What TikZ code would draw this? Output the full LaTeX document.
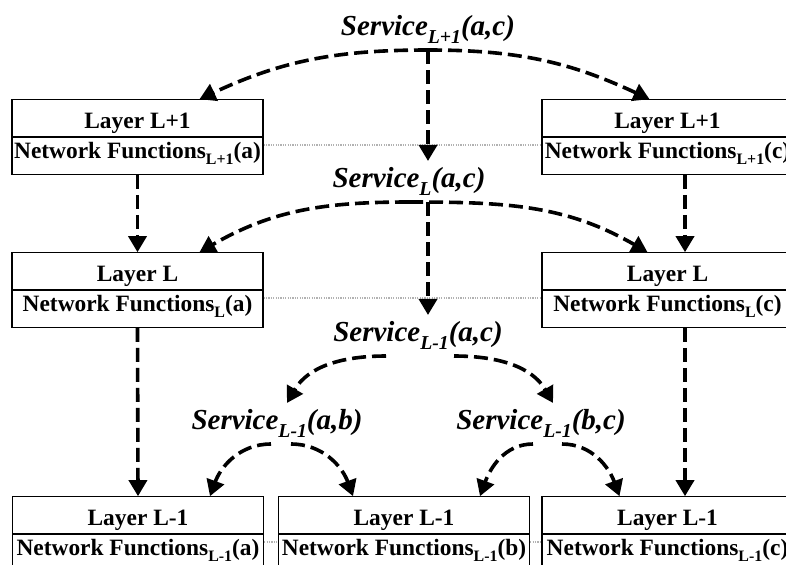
\documentclass[tikz,border=0pt]{standalone}
\usepackage{fontspec}
\setmainfont{Liberation Serif}
\usepackage{graphicx}
\usetikzlibrary{positioning, calc, arrows.meta, shapes.multipart}

\newcommand{\layersub}[1]{\raisebox{-.28em}{\scalebox{.68}{#1}}}
\newcommand{\upstrut}{\rule[-4pt]{0pt}{18pt}}
\newcommand{\lowstrut}{\rule[-7.7pt]{0pt}{18pt}}

\tikzset{
  layerbox/.style={rectangle split, rectangle split parts=2, draw, line width=0.6pt,
    minimum width=125.5pt, inner xsep=1pt, inner ysep=0pt,
    font=\fontsize{11.7}{14}\selectfont\bfseries},
  service/.style={inner sep=3pt, anchor=base, font=\fontsize{14.5}{17}\selectfont\bfseries\itshape},
  flow/.style={line width=1.8pt, dash pattern=on 7pt off 3pt, -{Triangle[length=8pt,width=9pt]}},
  guide/.style={draw=gray!60, line width=0.6pt, dash pattern=on 0.6pt off 0.6pt},
}

\begin{document}
\begin{tikzpicture}[x=0.5pt, y=0.5pt]
    \useasboundingbox (0,0) rectangle (786,565);
    \clip (0,0) rectangle (786,565);

    % Layers
    \node[layerbox] (a1) at (137.5,428) {\upstrut Layer L+1\nodepart{two}\lowstrut Network Functions\layersub{L+1}(a)};
    \node[layerbox] (c1) at (667.5,428) {\upstrut Layer L+1\nodepart{two}\lowstrut Network Functions\layersub{L+1}(c)};
    \node[layerbox] (a2) at (137.5,275) {\upstrut Layer L\nodepart{two}\lowstrut Network Functions\layersub{L}(a)};
    \node[layerbox] (c2) at (667.5,275) {\upstrut Layer L\nodepart{two}\lowstrut Network Functions\layersub{L}(c)};
    \node[layerbox] (a3) at (138,31) {\upstrut Layer L-1\nodepart{two}\lowstrut Network Functions\layersub{L-1}(a)};
    \node[layerbox] (b3) at (404,31) {\upstrut Layer L-1\nodepart{two}\lowstrut Network Functions\layersub{L-1}(b)};
    \node[layerbox] (c3) at (667.5,31) {\upstrut Layer L-1\nodepart{two}\lowstrut Network Functions\layersub{L-1}(c)};

    % Services
    \node[service] (s1) at (428,529.5) {Service\layersub{L+1}(a,c)};
    \node[service] (s2) at (409,377.5) {Service\layersub{L}(a,c)};
    \node[service] (s3) at (418,223.5) {Service\layersub{L-1}(a,c)};
    \node[service] (s4) at (277,135.5) {Service\layersub{L-1}(a,b)};
    \node[service] (s5) at (541,135.5) {Service\layersub{L-1}(b,c)};

    \coordinate (spine) at (428,0);
    \coordinate (rcol) at (685,0);

    % dotted guides between peers
    \draw[guide] ([yshift=-4pt]a1.east) -- ([yshift=-4pt]c1.west);
    \draw[guide] ([yshift=-4pt]a2.east) -- ([yshift=-4pt]c2.west);
    \draw[guide] ([yshift=-4pt]a3.east) -- ([yshift=-4pt]b3.west);
    \draw[guide] ([yshift=-4pt]b3.east) -- ([yshift=-4pt]c3.west);

    \path[flow]
      (s1.south) edge[out=180, in=25] ([xshift=31pt]a1.north)
      (s1.south) edge[out=0, in=155] ([xshift=-9pt]c1.north)
      (s1.south) edge (s2.north -| spine)
      (s2.south) edge[out=180, in=30] ([xshift=31pt]a2.north)
      (s2.south) edge[out=0, in=150] ([xshift=-10pt]c2.north)
      (s2.south -| spine) edge (s3.north -| spine)
      ([xshift=-16pt]s3.south) edge[out=180, in=60] ([xshift=5pt]s4.north)
      ([xshift=18pt]s3.south) edge[out=0, in=120] ([xshift=6pt]s5.north)
      ([xshift=-3pt]s4.south) edge[out=180, in=70] ([xshift=36pt]a3.north)
      ([xshift=7pt]s4.south) edge[out=0, in=110] ([xshift=-25.5pt]b3.north)
      ([xshift=-4pt]s5.south) edge[out=180, in=70] ([xshift=38pt]b3.north)
      ([xshift=10.5pt]s5.south) edge[out=0, in=110] ([xshift=-24pt]c3.north)
      (a1.south) edge (a2.north)
      (a2.south) edge (a3.north)
      (c1.south -| rcol) edge (c2.north -| rcol)
      (c2.south -| rcol) edge (c3.north -| rcol);
\end{tikzpicture}
\end{document}
